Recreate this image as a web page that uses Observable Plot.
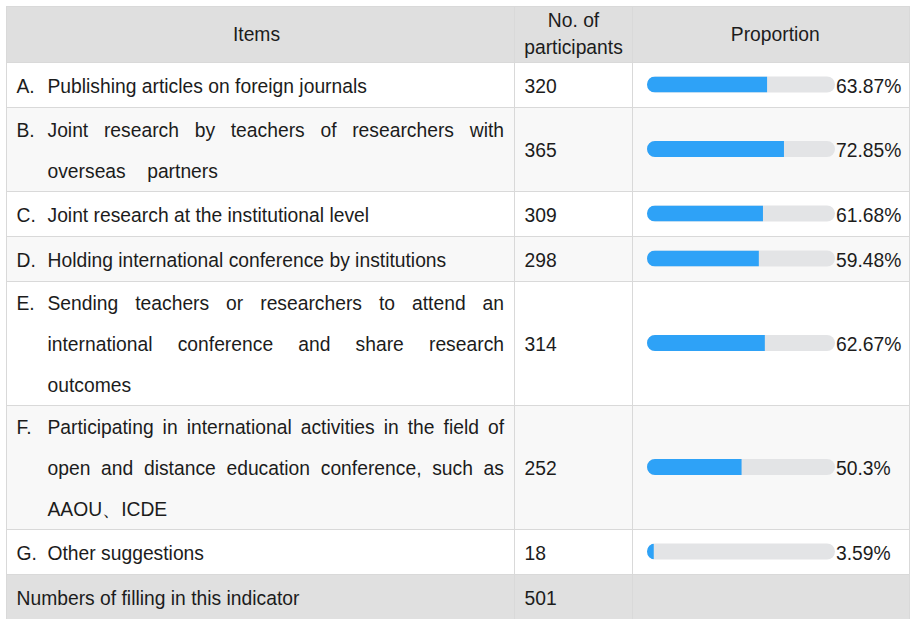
<!DOCTYPE html>
<html>
<head>
<meta charset="utf-8">
<script src="https://cdn.jsdelivr.net/npm/d3@7"></script>
<script src="https://cdn.jsdelivr.net/npm/@observablehq/plot@0.6"></script>
<style>
  html, body { margin: 0; padding: 0; background: #ffffff; }
  #chart svg text { white-space: pre; }
</style>
</head>
<body>
<div id="chart"></div>
<script>
// ---- data ----
const headers = ["Items", "No. of\nparticipants", "Proportion"];
const letters = ["A.", "B.", "C.", "D.", "E.", "F.", "G."];
const items = [
  "Publishing articles on foreign journals",
  "Joint research by teachers of researchers with\noverseas    partners",
  "Joint research at the institutional level",
  "Holding international conference by institutions",
  "Sending teachers or researchers to attend an\ninternational conference and share research\noutcomes",
  "Participating in international activities in the field of\nopen and distance education conference, such as\nAAOU、ICDE",
  "Other suggestions"
];
const participants = [320, 365, 309, 298, 314, 252, 18];
const proportions = [63.87, 72.85, 61.68, 59.48, 62.67, 50.3, 3.59];
const footerLabel = "Numbers of filling in this indicator";
const footerTotal = 501;

// ---- layout ----
const W = 910, H = 619;
const FS = 19.3;
const COLS = [6, 514, 632, 909.5];
const HEAD_DX = [-4, 0, 4];
const BAR_X0 = 647, BAR_X1 = 835;
const toX = px => (px - BAR_X0) / (BAR_X1 - BAR_X0) * 100; // pixel -> x-scale units
const LINE = 41;
const HEADER_Y = [6, 62];
const TEXT_RIGHT = 503.5, TEXT_LEFT = 47;
const ROW_DY = 1.5;

let y = HEADER_Y[1];
const rows = items.map((t, i) => {
  const lines = t.split("\n");
  const n = lines.length;
  const h = n === 1 ? 45 : 40 * n + 4;
  const r = {i, letter: letters[i], lines, n, y0: y, y1: y + h, yc: y + h / 2,
             count: participants[i], p: proportions[i], bg: i % 2 ? "#f8f8f8" : "#ffffff"};
  y += h;
  return r;
});
const footer = {y0: y, y1: H, yc: (y + H) / 2};

// cell backgrounds
const cells = [];
const bands = [{y0: HEADER_Y[0], y1: HEADER_Y[1], bg: "#dfdfdf"}, ...rows, {...footer, bg: "#e0e0e0"}];
for (const b of bands) for (let c = 0; c < 3; c++) cells.push({x1: COLS[c], x2: COLS[c + 1], y1: b.y0, y2: b.y1, bg: b.bg});
const hLines = bands.map(b => b.y0);

// text lines
const itemLines = rows.flatMap(r => r.lines.map((s, k) => ({
  text: s, y: r.yc + (k - (r.n - 1) / 2) * LINE, justify: k < r.n - 1
})));
const letterData = rows.map(r => ({text: r.letter, y: r.yc - (r.n - 1) / 2 * LINE}));
const headerMid = (HEADER_Y[0] + HEADER_Y[1]) / 2;
const headerData = headers.flatMap((h, c) => {
  const ls = h.split("\n");
  return ls.map((s, k) => ({text: s, x: (COLS[c] + COLS[c + 1]) / 2 + HEAD_DX[c], y: headerMid + (k - (ls.length - 1) / 2) * 27}));
});

const ink = "#1c1c1c";
const chart = Plot.plot({
  width: W, height: H,
  margin: 0, marginTop: 0, marginRight: 0, marginBottom: 0, marginLeft: 0,
  x: {domain: [0, 100], range: [BAR_X0, BAR_X1], axis: null},
  y: {type: "identity", axis: null},
  style: {fontFamily: "'Liberation Sans', Arial, sans-serif", fontSize: FS + "px", background: "#ffffff", color: ink},
  marks: [
    Plot.rect(cells, {x1: d => toX(d.x1), x2: d => toX(d.x2), y1: "y1", y2: "y2", fill: "bg", inset: 0}),
    Plot.ruleY(hLines, {y: d => Math.round(d), x1: toX(COLS[0]), x2: toX(COLS[3]), stroke: "#d9d9d9", strokeOpacity: 1}),
    Plot.ruleX([COLS[0], COLS[1], COLS[2], COLS[3] - 0.5], {x: d => toX(d), y1: HEADER_Y[0], y2: H, stroke: "#d9d9d9", strokeOpacity: 1}),
    // header
    Plot.text(headerData, {x: d => toX(d.x), y: "y", text: "text", fill: ink, textAnchor: "middle", fontSize: FS}),
    // item letters + text
    Plot.text(letterData, {x: toX(16), y: "y", dy: ROW_DY, text: "text", fill: ink, textAnchor: "start", fontSize: FS}),
    Plot.text(itemLines, {x: toX(TEXT_LEFT), y: "y", dy: ROW_DY, text: "text", fill: ink, textAnchor: "start", fontSize: FS, ariaDescription: "item-lines"}),
    // participants
    Plot.text(rows, {x: toX(524), y: "yc", dy: ROW_DY, text: d => String(d.count), fill: ink, textAnchor: "start", fontSize: FS}),
    // bars
    Plot.rect(rows, {x1: 0, x2: 100, y1: d => d.yc - 8, y2: d => d.yc + 8, rx: 8, fill: "#e3e4e6", ariaDescription: "track"}),
    Plot.rect(rows, {x1: 0, x2: "p", y1: d => d.yc - 8, y2: d => d.yc + 8, fill: "#2ea2f7", ariaDescription: "fill"}),
    Plot.text(rows, {x: 100, dx: 0.5, y: "yc", dy: ROW_DY, text: d => d.p + "%", fill: ink, textAnchor: "start", fontSize: FS}),
    // footer
    Plot.text([footerLabel], {x: toX(16), y: footer.yc, dy: ROW_DY, text: d => d, fill: ink, textAnchor: "start", fontSize: FS}),
    Plot.text([footerTotal], {x: toX(524), y: footer.yc, dy: ROW_DY, text: d => String(d), fill: ink, textAnchor: "start", fontSize: FS})
  ]
});
document.getElementById("chart").append(chart);

// clip blue fills to the rounded tracks
const NS = "http://www.w3.org/2000/svg";
const trackG = chart.querySelector('g[aria-description="track"]');
const fillG = chart.querySelector('g[aria-description="fill"]');
if (trackG && fillG) {
  const defs = document.createElementNS(NS, "defs");
  const cp = document.createElementNS(NS, "clipPath");
  cp.setAttribute("id", "track-clip");
  trackG.querySelectorAll("rect").forEach(r => cp.appendChild(r.cloneNode(true)));
  defs.appendChild(cp);
  chart.insertBefore(defs, chart.firstChild);
  fillG.setAttribute("clip-path", "url(#track-clip)");
}

// justify item lines (all but the last line of each item)
const lineEls = chart.querySelectorAll('g[aria-description="item-lines"] text');
lineEls.forEach((el, k) => {
  const d = itemLines[k];
  if (!d || !d.justify) return;
  const spaces = (d.text.match(/ /g) || []).length;
  if (!spaces) return;
  const len = el.getComputedTextLength();
  const extra = (TEXT_RIGHT - TEXT_LEFT - len) / spaces;
  el.style.wordSpacing = extra + "px";
});
</script>
</body>
</html>
